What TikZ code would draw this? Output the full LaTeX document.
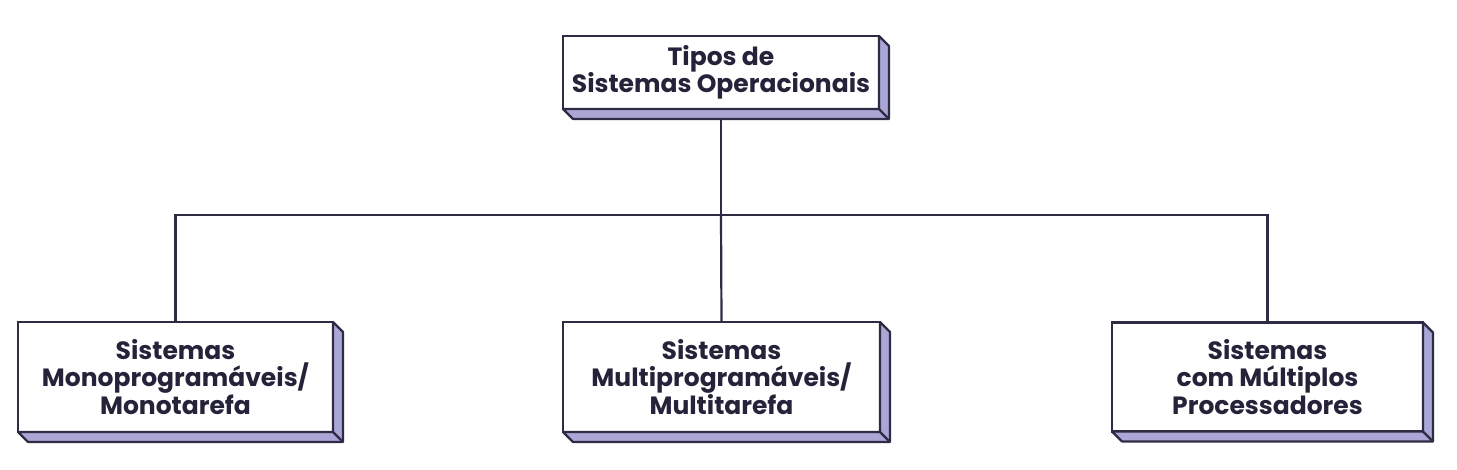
\documentclass[tikz,border=0pt]{standalone}
\usepackage{fontspec}
\setmainfont{Poppins}
\usepackage{tikz}
\definecolor{contorno}{HTML}{2E2C45}
\definecolor{lateral}{HTML}{AAA6D6}
\definecolor{texto}{HTML}{25233A}
\tikzset{
  caixa/.style={draw=contorno, line width=2.2pt, fill=white, outer sep=0pt, inner sep=0pt,
    align=center, text=texto, font=\fontsize{25}{27.5}\selectfont\bfseries},
  lado/.style={fill=lateral, draw=contorno, line width=2.2pt, line join=round},
  linha/.style={draw=contorno, line width=2.2pt}
}

\begin{document}
\begin{tikzpicture}[x=1pt,y=-1pt]
        \useasboundingbox (0,0) rectangle (1457,470);
        
        \node[caixa, minimum width=316pt, minimum height=73pt] (topo) at (721,72.5) {Tipos de\\Sistemas Operacionais};
        \node[caixa, minimum width=315pt, minimum height=110pt] (mono) at (175.5,377) {Sistemas\\Monoprogramáveis/\\Monotarefa};
        \node[caixa, minimum width=317pt, minimum height=110pt] (multi) at (721.5,377) {Sistemas\\Multiprogramáveis/\\Multitarefa};
        \node[caixa, minimum width=311pt, minimum height=109pt] (proc) at (1267.5,377) {Sistemas\\com Múltiplos\\Processadores};
        
        \coordinate (ramo) at (721,215);
        \draw[linha] (topo.south) -- (ramo);
        \draw[linha] (mono.north) |- (ramo) -| (proc.north);
        \draw[linha] (ramo) -- (multi.north);
        
        % faces laterais
        \foreach \n in {topo,mono,multi,proc}{
          \filldraw[lado] (\n.north east) -- ++(10,10) -- ([shift={(10,10)}]\n.south east)
            -- ([shift={(10,10)}]\n.south west) -- (\n.south west) -- (\n.south east) -- cycle;
          \draw[lado] (\n.south east) -- ++(10,10);
        }
\end{tikzpicture}
\end{document}
